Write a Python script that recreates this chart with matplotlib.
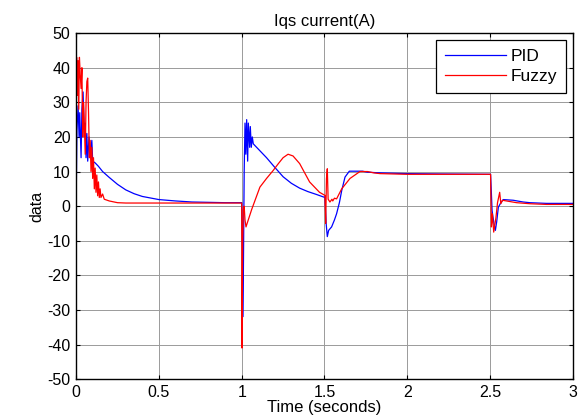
import numpy as np
import matplotlib.pyplot as plt

plt.rcParams['font.family'] = ['Liberation Sans', 'DejaVu Sans']
plt.rcParams['axes.unicode_minus'] = False

# PID response (time in s, current in A)
t_pid = [0, 0.005, 0.012, 0.018, 0.022, 0.03, 0.035, 0.042, 0.05, 0.055, 0.06, 0.065,
         0.07, 0.078, 0.085, 0.095, 0.1, 0.115, 0.135, 0.16, 0.2, 0.25, 0.3, 0.35, 0.4,
         0.5, 0.6, 0.7, 0.8, 0.9, 0.999,
         1.0, 1.003, 1.006, 1.01, 1.015, 1.02, 1.025, 1.03, 1.036, 1.04, 1.048, 1.052,
         1.058, 1.064, 1.07, 1.1, 1.15, 1.2, 1.25, 1.3, 1.35, 1.4, 1.45, 1.497,
         1.503, 1.51, 1.517, 1.525, 1.543, 1.56, 1.573, 1.59, 1.604, 1.624, 1.65, 1.73,
         1.76, 1.845, 2.0, 2.2, 2.499,
         2.503, 2.508, 2.512, 2.517, 2.524, 2.532, 2.54, 2.55, 2.565, 2.58, 2.64, 2.7,
         2.74, 2.84, 3.0]
i_pid = [0, 22, 29, 20, 27, 14, 28, 33, 20, 24, 14, 21,
         13, 20, 14, 19, 13, 12.5, 11.5, 10, 8.3, 6.3, 4.7, 3.6, 2.8,
         1.9, 1.5, 1.2, 1.1, 1.0, 1.0,
         1.0, -10, -32, -20, 10, 24, 15, 25, 13, 24, 17, 23,
         17, 20, 18, 16.5, 14, 11.2, 8.5, 6.6, 5.2, 4.2, 3.4, 2.6,
         2.6, -5, -8.8, -7, -6, -4, -2.2, 1, 4.5, 8.4, 10.1, 10.1,
         9.8, 9.6, 9.4, 9.3, 9.2,
         9.2, 3.6, -1.2, -3, -5.1, -7, -4.5, -0.3, 1, 1.9, 1.7, 1.2,
         1.0, 0.8, 0.8]

# Fuzzy response
t_fuzzy = [0, 0.003, 0.008, 0.012, 0.016, 0.02, 0.025, 0.03, 0.035, 0.04, 0.045, 0.05,
           0.055, 0.06, 0.065, 0.07, 0.075, 0.08, 0.085, 0.09, 0.095, 0.1, 0.105, 0.11,
           0.115, 0.12, 0.125, 0.13, 0.135, 0.14, 0.145, 0.15, 0.16, 0.17, 0.2, 0.25,
           0.3, 0.5, 0.999,
           1.0, 1.002, 1.006, 1.01, 1.015, 1.02, 1.026, 1.06, 1.11, 1.15, 1.19, 1.22,
           1.25, 1.28, 1.31, 1.35, 1.41, 1.47, 1.503,
           1.507, 1.512, 1.517, 1.522, 1.533, 1.545, 1.55, 1.56, 1.573, 1.604, 1.654,
           1.714, 1.76, 1.8, 1.835, 2.0, 2.503,
           2.508, 2.514, 2.522, 2.535, 2.545, 2.558, 2.565, 2.575, 2.66, 2.74, 2.84, 3.0]
i_fuzzy = [0, 43, 32, 42, 28, 43, 38, 34, 40, 20, 30, 23,
           15, 30, 36, 37, 27, 14, 19, 10, 17, 8, 14, 5,
           11, 4, 9, 3, 7, 2.5, 5, 2.5, 3.5, 2, 1.5, 1.0,
           0.9, 0.9, 0.9,
           0.9, -41, -10, -1, 0, -4, -6, -1, 5.5, 8, 10.3, 12.2,
           14, 15, 14.5, 12.3, 7, 4, 3.1,
           -5, 8, 10.8, 2, 1.2, 2, 1.5, 2.3, 2.1, 5, 8,
           10, 10, 9.6, 9.4, 9.2, 9.2,
           -6, -2.2, -7.5, -3.5, 1, 4, 0.7, 1.7, 1.0, 0.7, 0.5, 0.5]

x_ticks = [0, 0.5, 1, 1.5, 2, 2.5, 3]
x_labels = ['0', '0.5', '1', '1.5', '2', '2.5', '3']
y_ticks = list(range(-50, 51, 10))

fig = plt.figure(figsize=(5.81, 4.19), dpi=100)
ax = fig.add_axes([0.131, 0.095, 0.855, 0.826])

ax.plot(t_pid, i_pid, color='#0000ff', linewidth=0.9, label='PID')
ax.plot(t_fuzzy, i_fuzzy, color='#ff0000', linewidth=0.9, label='Fuzzy')

ax.set_xlim(0, 3)
ax.set_ylim(-50, 50)
ax.set_xticks(x_ticks)
ax.set_xticklabels(x_labels)
ax.set_yticks(y_ticks)
ax.tick_params(direction='in', top=True, right=True, labelsize=11.5, length=3, pad=4)
ax.grid(True, color='#9a9a9a', linewidth=0.7, linestyle='-')
for s in ax.spines.values():
    s.set_linewidth(1.0)

ax.set_title('Iqs current(A)', fontsize=12, pad=5)
ax.set_xlabel('Time (seconds)', fontsize=12, labelpad=0)
ax.set_ylabel('data', fontsize=11.5, labelpad=2)

leg = ax.legend(loc='upper right', fontsize=12.5, fancybox=False, framealpha=1,
                edgecolor='black', handlelength=3.5, handletextpad=0.3,
                borderaxespad=0.4, borderpad=0.5, labelspacing=0.3)
leg.get_frame().set_linewidth(0.9)

fig.savefig('out.png', dpi=100)
